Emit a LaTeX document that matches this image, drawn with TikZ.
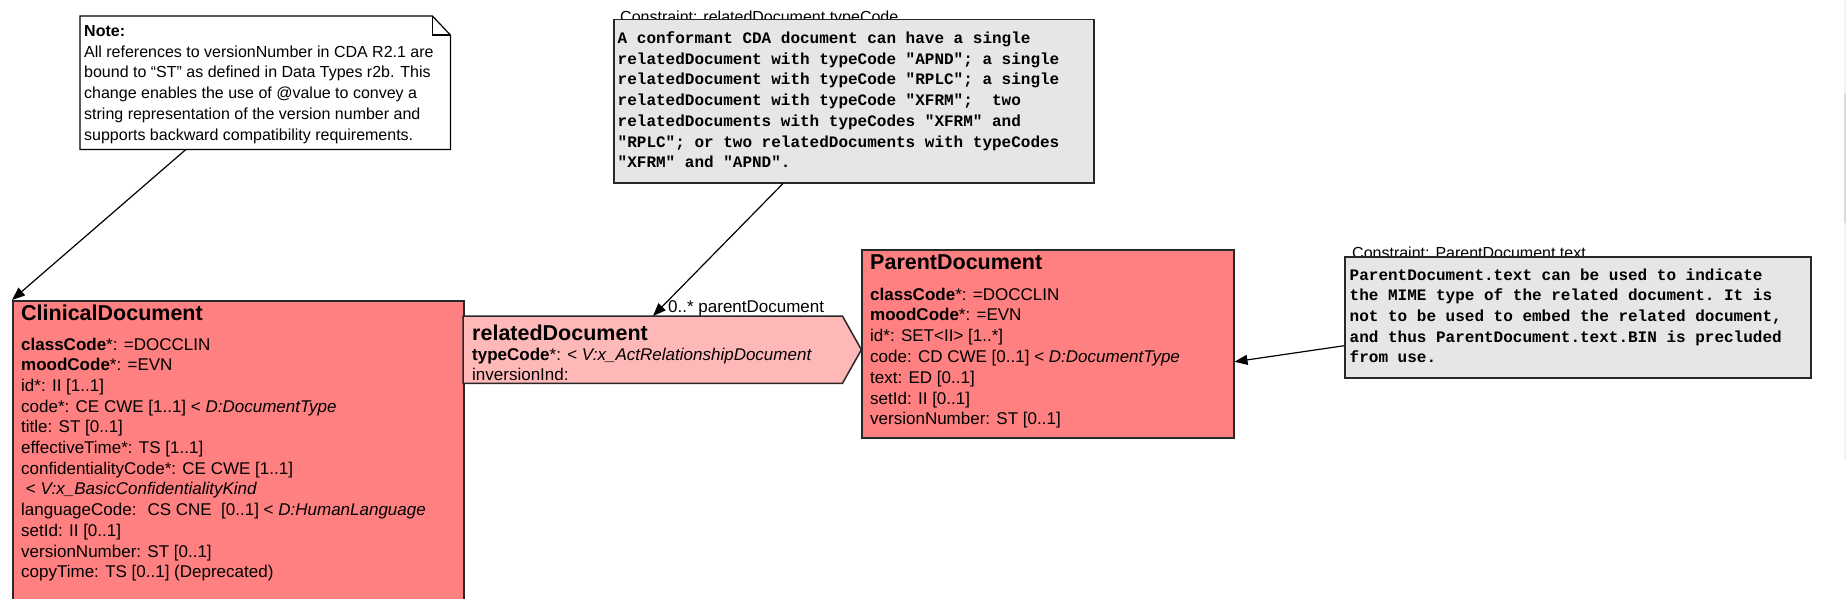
\documentclass[tikz,border=0pt]{standalone}
\usepackage{fontspec}
\setmainfont{Liberation Sans}
\setmonofont{Liberation Mono}
\usetikzlibrary{arrows.meta}
\definecolor{classfill}{RGB}{255,128,128}
\definecolor{relfill}{RGB}{255,184,184}
\definecolor{cfill}{RGB}{230,230,230}
\definecolor{edgecol}{RGB}{40,40,40}
\begin{document}
\begin{tikzpicture}[x=1pt,y=-1pt,
  box/.style={draw=edgecol, line width=1.5pt, inner sep=0pt, anchor=north west},
  classbox/.style={box, fill=classfill},
  cbox/.style={box, fill=cfill},
  shapebox/.style={draw=none, inner sep=0pt, anchor=north west},
  titletext/.style={anchor=base west, inner sep=0pt, font=\fontsize{21.5}{26}\selectfont\bfseries},
  bodytext/.style={anchor=base west, inner sep=0pt, align=left, font=\fontsize{17}{20.7}\selectfont},
  notetext/.style={anchor=base west, inner sep=0pt, align=left, font=\fontsize{16}{20.7}\selectfont},
  monotext/.style={anchor=base west, inner sep=0pt, align=left, font=\fontsize{16}{20.7}\selectfont\ttfamily\bfseries},
  clabel/.style={anchor=base west, inner sep=0pt, font=\fontsize{16}{19}\selectfont},
  conn/.style={draw=black, line width=1.2pt, -{Triangle[length=13pt,width=10pt]}},
]
\path[use as bounding box, clip] (0,0) rectangle (1846,599);
\fill[white] (0,0) rectangle (1846,599);
\fill[black!5] (1843.5,0) rectangle (1846,460);
\fill[black!14] (1843.5,94) rectangle (1846,223);

% Note (text anchors are at the baseline of the last line)
\node[shapebox, minimum width=370pt, minimum height=133pt] (note) at (80,16) {};
\draw[fill=white, draw=black, line width=1.2pt]
  (note.north west) -- ([xshift=-18pt]note.north east) -- ([yshift=-19pt]note.north east)
  -- (note.south east) -- (note.south west) -- cycle;
\draw[black, line width=1.2pt] ([xshift=-18pt]note.north east) -- ([xshift=-18pt,yshift=-19pt]note.north east) -- ([yshift=-19pt]note.north east);
\node[notetext] (notetxt) at (84,140) {\textbf{Note:}\\
All references to versionNumber in CDA R2.1 are\\
bound to “ST” as defined in Data Types r2b. This\\
change enables the use of @value to convey a\\
string representation of the version number and\\
supports backward compatibility requirements.};

% Constraint 1
\node[clabel] (c1lab) at (620,22.5) {Constraint: relatedDocument.typeCode};
\node[cbox, minimum width=480pt, minimum height=163pt] (c1) at (613,19) {};
\node[monotext] (c1txt) at (617.5,167.7) {A conformant CDA document can have a single\\
relatedDocument with typeCode "APND"; a single\\
relatedDocument with typeCode "RPLC"; a single\\
relatedDocument with typeCode "XFRM"; \ two\\
relatedDocuments with typeCodes "XFRM" and\\
"RPLC"; or two relatedDocuments with typeCodes\\
"XFRM" and "APND".};

% Constraint 2
\node[clabel] (c2lab) at (1352,258) {Constraint: ParentDocument.text};
\node[cbox, minimum width=466pt, minimum height=121pt] (c2) at (1344,256) {};
\node[monotext] (c2txt) at (1349.5,362.8) {ParentDocument.text can be used to indicate\\
the MIME type of the related document. It is\\
not to be used to embed the related document,\\
and thus ParentDocument.text.BIN is precluded\\
from use.};

% ClinicalDocument
\node[classbox, minimum width=451pt, minimum height=310pt] (cd) at (12,300) {};
\node[titletext] (cdtitle) at (21,320) {ClinicalDocument};
\node[bodytext] (cdbody) at (21,577.7) {\textbf{classCode}*: =DOCCLIN\\
\textbf{moodCode}*: =EVN\\
id*: II [1..1]\\
code*: CE CWE [1..1] < \textit{D:DocumentType}\\
title: ST [0..1]\\
effectiveTime*: TS [1..1]\\
confidentialityCode*: CE CWE [1..1]\\
\hspace*{4.7pt}< \textit{V:x\_BasicConfidentialityKind}\\
languageCode: \ CS CNE \ [0..1] < \textit{D:HumanLanguage}\\
setId: II [0..1]\\
versionNumber: ST [0..1]\\
copyTime: TS [0..1] (Deprecated)};

% relatedDocument
\node[shapebox, minimum width=379pt, minimum height=67pt] (rd) at (463,316) {};
\draw[fill=relfill, draw=edgecol, line width=1.5pt]
  (rd.north west) -- (rd.north east) -- ([xshift=19pt]rd.east) -- (rd.south east) -- (rd.south west) -- cycle;
\node[titletext] (rdtitle) at (472,340) {relatedDocument};
\node[bodytext, font=\fontsize{17}{20}\selectfont] (rdbody) at (472,380) {\textbf{typeCode}*: < \textit{V:x\_ActRelationshipDocument}\\
inversionInd:};

% ParentDocument
\node[classbox, minimum width=372pt, minimum height=188pt] (pd) at (861,249) {};
\node[titletext] (pdtitle) at (870,269.3) {ParentDocument};
\node[bodytext, font=\fontsize{17}{20.8}\selectfont] (pdbody) at (870,424.8) {\textbf{classCode}*: =DOCCLIN\\
\textbf{moodCode}*: =EVN\\
id*: SET<II> [1..*]\\
code: CD CWE [0..1] < \textit{D:DocumentType}\\
text: ED [0..1]\\
setId: II [0..1]\\
versionNumber: ST [0..1]};

% connectors
\draw[conn] ([xshift=106pt]note.south west) -- (cd.north west);
\draw[conn] ([xshift=170pt]c1.south west) -- ([xshift=190pt]rd.north west);
\node[anchor=base west, inner sep=0pt, font=\fontsize{17}{20}\selectfont] (rolelab) at (668,312) {0..* parentDocument};
\draw[conn] ([yshift=-28.5pt]c2.west) -- ([yshift=-18pt]pd.east);
\end{tikzpicture}
\end{document}
